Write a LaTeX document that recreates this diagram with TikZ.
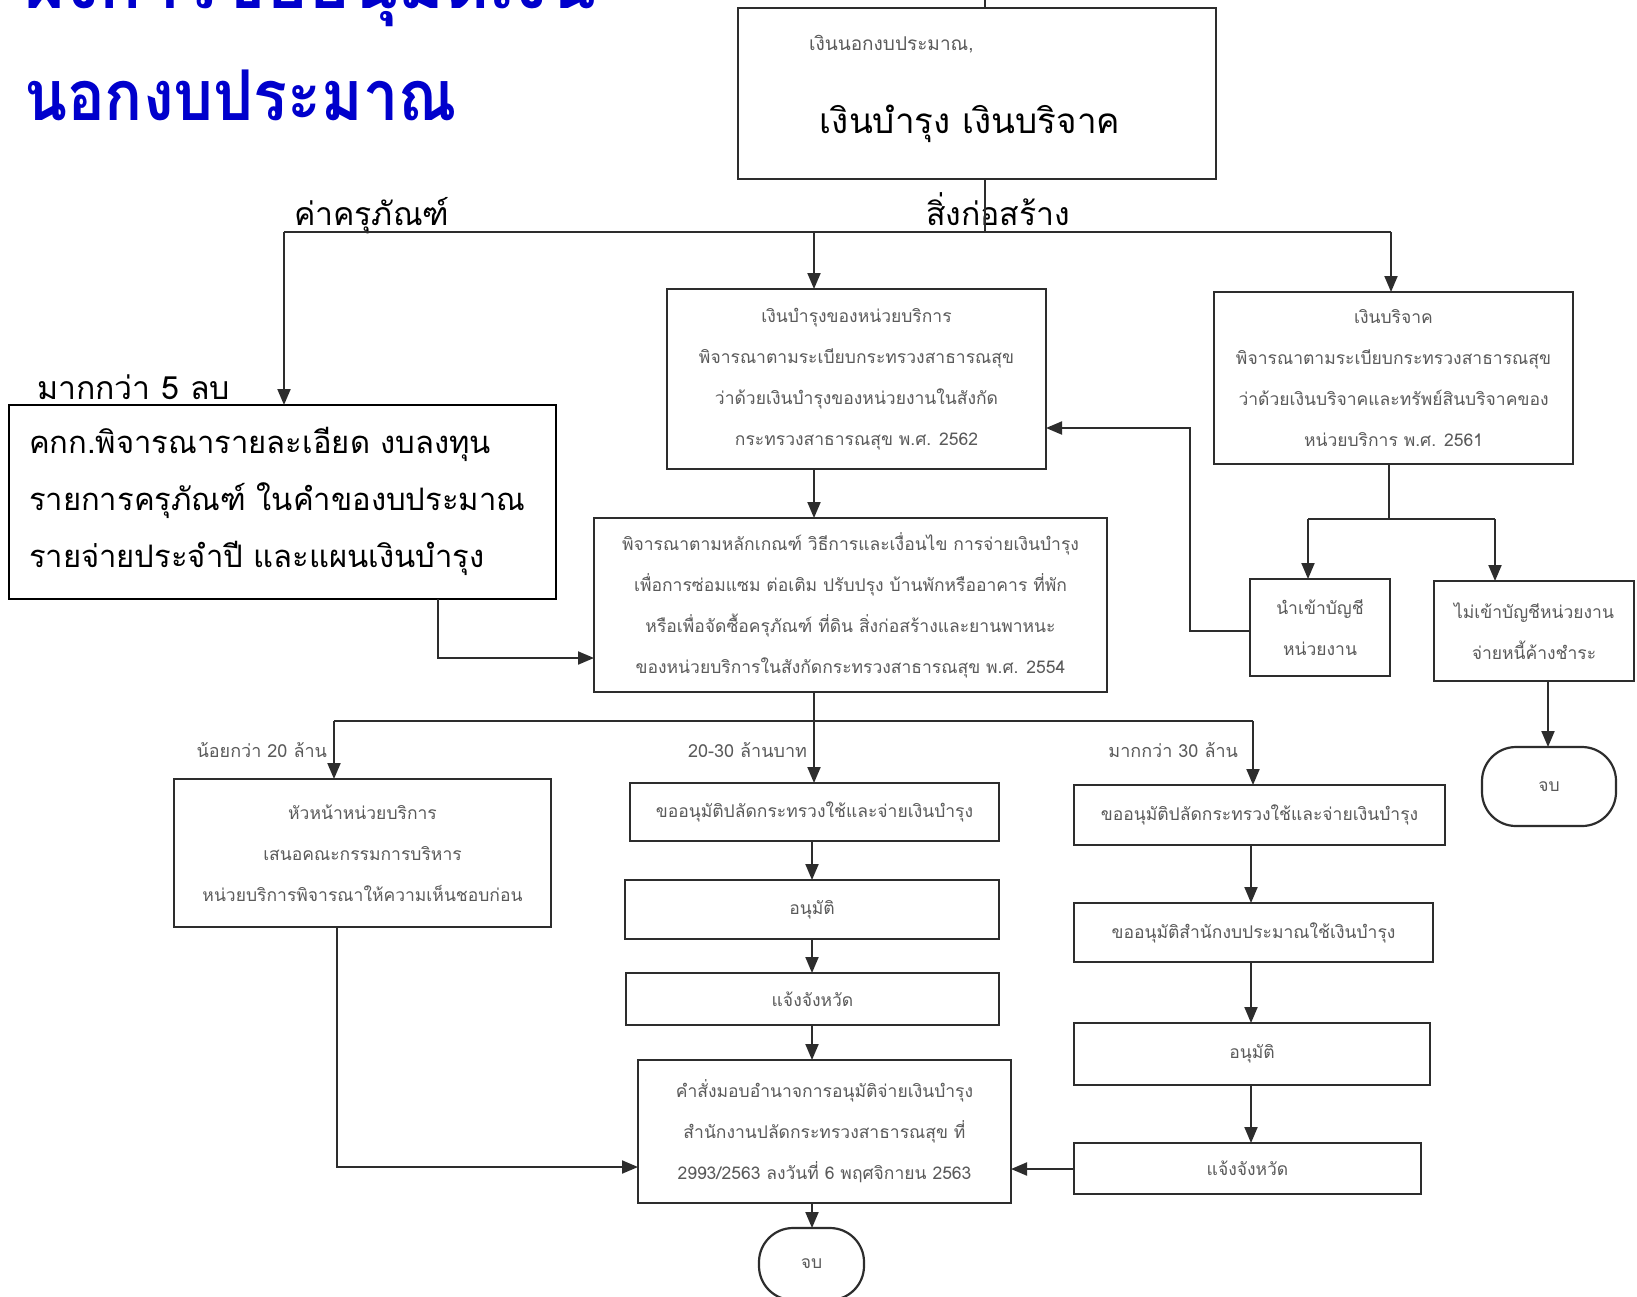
\documentclass[tikz,border=0pt]{standalone}
\usepackage{fontspec}
\setmainfont[Script=Thai]{Loma}
\usetikzlibrary{arrows.meta}
\definecolor{titleblue}{RGB}{0,0,204}
\definecolor{ink}{RGB}{45,45,45}
\definecolor{scan}{RGB}{90,90,90}
\tikzset{
  every node/.style={inner sep=0pt, outer sep=0pt},
  box/.style={draw=ink, line width=2.2pt, rectangle},
  bigbox/.style={draw=black, line width=1.8pt, rectangle},
  small/.style={text=scan, font=\fontsize{17.5}{41}\selectfont, align=center},
  bigtxt/.style={text=black, font=\fontsize{31}{57}\selectfont},
  lbl/.style={text=black, font=\fontsize{32}{36}\selectfont, anchor=base west},
  cond/.style={text=scan, font=\fontsize{18}{22}\selectfont, anchor=base east},
  ln/.style={draw=ink, line width=2pt},
  arr/.style={draw=ink, line width=2pt, -{Triangle[length=16pt,width=13pt]}},
  term/.style={box, rounded corners=34pt}
}
\begin{document}
\begin{tikzpicture}[x=1pt, y=-1pt]
\useasboundingbox (0,0) rectangle (1637,1296);
\clip (0,0) rectangle (1637,1296);
\fill[white] (0,0) rectangle (1637,1296);

% title (first line runs off the top edge)
\node[anchor=base west, text=titleblue, font=\bfseries\fontsize{70}{80}\selectfont] (title1) at (24,8) {ผังการขออนุมัติเงิน};
\node[anchor=base west, text=titleblue, font=\bfseries\fontsize{70}{80}\selectfont] (title2) at (24,120) {\scalebox{0.9}[1]{นอกงบประมาณ}};

% source of funds
\node[box, minimum width=478pt, minimum height=171pt] (T) at (977,93.5) {};
\node[text=scan, font=\fontsize{19}{22}\selectfont, anchor=base west] (Tsub) at (809,50) {เงินนอกงบประมาณ,};
\node[font=\fontsize{35}{40}\selectfont, anchor=base] (Tmain) at (970,133) {เงินบำรุง เงินบริจาค};

% branch labels
\node[lbl] (lblA) at (294,225) {ค่าครุภัณฑ์};
\node[lbl] (lblB) at (926,225) {สิ่งก่อสร้าง};
\node[lbl] (lblC) at (37,399) {มากกว่า 5 ลบ};

% regulations
\node[box, small, minimum width=379pt, minimum height=180pt] (MB1) at (856.5,379)
  {เงินบำรุงของหน่วยบริการ\\พิจารณาตามระเบียบกระทรวงสาธารณสุข\\ว่าด้วยเงินบำรุงของหน่วยงานในสังกัด\\กระทรวงสาธารณสุข พ.ศ. 2562};
\node[box, small, minimum width=359pt, minimum height=172pt] (RB) at (1393.5,378)
  {เงินบริจาค\\พิจารณาตามระเบียบกระทรวงสาธารณสุข\\ว่าด้วยเงินบริจาคและทรัพย์สินบริจาคของ\\หน่วยบริการ พ.ศ. 2561};
\node[bigbox, minimum width=547pt, minimum height=194pt] (LB) at (282.5,502) {};
\node[bigtxt, anchor=west, align=left] (LBt) at (29,501)
  {คกก.พิจารณารายละเอียด งบลงทุน\\รายการครุภัณฑ์ ในคำของบประมาณ\\รายจ่ายประจำปี และแผนเงินบำรุง};
\node[box, small, minimum width=513pt, minimum height=174pt] (MB2) at (850.5,605)
  {พิจารณาตามหลักเกณฑ์ วิธีการและเงื่อนไข การจ่ายเงินบำรุง\\เพื่อการซ่อมแซม ต่อเติม ปรับปรุง บ้านพักหรืออาคาร ที่พัก\\หรือเพื่อจัดซื้อครุภัณฑ์ ที่ดิน สิ่งก่อสร้างและยานพาหนะ\\ของหน่วยบริการในสังกัดกระทรวงสาธารณสุข พ.ศ. 2554};
\node[box, small, minimum width=140pt, minimum height=97pt] (SA) at (1320,627.5) {นำเข้าบัญชี\\หน่วยงาน};
\node[box, small, minimum width=200pt, minimum height=100pt] (SB) at (1534,631) {ไม่เข้าบัญชีหน่วยงาน\\จ่ายหนี้ค้างชำระ};
\node[term, small, minimum width=134pt, minimum height=79pt] (ER) at (1549,786.5) {จบ};

% approval routes
\node[box, small, minimum width=377pt, minimum height=148pt] (LL) at (362.5,853)
  {หัวหน้าหน่วยบริการ\\เสนอคณะกรรมการบริหาร\\หน่วยบริการพิจารณาให้ความเห็นชอบก่อน};
\node[box, small, minimum width=369pt, minimum height=58pt] (M1) at (814.5,812) {ขออนุมัติปลัดกระทรวงใช้และจ่ายเงินบำรุง};
\node[box, small, minimum width=374pt, minimum height=59pt] (M2) at (812,909.5) {อนุมัติ};
\node[box, small, minimum width=373pt, minimum height=52pt] (M3) at (812.5,999) {แจ้งจังหวัด};
\node[box, small, minimum width=373pt, minimum height=143pt] (M4) at (824.5,1131.5)
  {คำสั่งมอบอำนาจการอนุมัติจ่ายเงินบำรุง\\สำนักงานปลัดกระทรวงสาธารณสุข ที่\\2993/2563 ลงวันที่ 6 พฤศจิกายน 2563};
\node[term, small, minimum width=105pt, minimum height=72pt] (EB) at (811.5,1264) {จบ};
\node[box, small, minimum width=371pt, minimum height=60pt] (R1) at (1259.5,815) {ขออนุมัติปลัดกระทรวงใช้และจ่ายเงินบำรุง};
\node[box, small, minimum width=359pt, minimum height=59pt] (R2) at (1253.5,932.5) {ขออนุมัติสำนักงบประมาณใช้เงินบำรุง};
\node[box, small, minimum width=356pt, minimum height=62pt] (R3) at (1252,1054) {อนุมัติ};
\node[box, small, minimum width=347pt, minimum height=51pt] (R4) at (1247.5,1168.5) {แจ้งจังหวัด};

% amount labels
\node[cond] (c1) at (327,757) {น้อยกว่า 20 ล้าน};
\node[cond] (c2) at (807,757) {20-30 ล้านบาท};
\node[cond] (c3) at (1238,757) {มากกว่า 30 ล้าน};

% connector points
\coordinate (J) at (985,232);
\coordinate (cL) at (284,232);
\coordinate (cM) at (814,232);
\coordinate (cR) at (1391,232);
\coordinate (rs) at (1389,519);
\coordinate (ra) at (1308,519);
\coordinate (rb) at (1495,519);
\coordinate (bk) at (1190,631);
\coordinate (bky) at (0,428);
\coordinate (ex) at (1548,0);
\coordinate (lb) at (438,658);
\coordinate (sp) at (814,721);
\coordinate (s1) at (334,721);
\coordinate (s3) at (1253,721);
\coordinate (mx) at (812,0);
\coordinate (rx) at (1251,0);
\coordinate (ll) at (337,1167);
\coordinate (r4y) at (0,1169);

% top distribution
\draw[ln] (T.north -| J) -- ++(0,-14);
\draw[ln] (T.south -| J) -- (J);
\draw[ln] (cL) -- (cR);
\draw[arr] (cL) -- (LB.north -| cL);
\draw[arr] (cM) -- (MB1.north -| cM);
\draw[arr] (cR) -- (RB.north -| cR);
\draw[arr] (MB1.south -| cM) -- (MB2.north -| cM);

% donations
\draw[ln] (RB.south -| rs) -- (rs);
\draw[ln] (ra) -- (rb);
\draw[arr] (ra) -- (SA.north -| ra);
\draw[arr] (rb) -- (SB.north -| rb);
\draw[arr] (SA.west |- bk) -- (bk) |- (MB1.east |- bky);
\draw[arr] (SB.south -| ex) -- (ER.north -| ex);

% equipment committee
\draw[arr] (LB.south -| lb) |- (MB2.west |- lb);

% split by amount
\draw[ln] (MB2.south -| sp) -- (sp);
\draw[ln] (s1) -- (s3);
\draw[arr] (s1) -- (LL.north -| s1);
\draw[arr] (sp) -- (M1.north -| sp);
\draw[arr] (s3) -- (R1.north -| s3);

% middle column
\draw[arr] (M1.south -| mx) -- (M2.north -| mx);
\draw[arr] (M2.south -| mx) -- (M3.north -| mx);
\draw[arr] (M3.south -| mx) -- (M4.north -| mx);
\draw[arr] (M4.south -| mx) -- (EB.north -| mx);

% right column
\draw[arr] (R1.south -| rx) -- (R2.north -| rx);
\draw[arr] (R2.south -| rx) -- (R3.north -| rx);
\draw[arr] (R3.south -| rx) -- (R4.north -| rx);
\draw[arr] (R4.west |- r4y) -- (M4.east |- r4y);

% left column
\draw[arr] (LL.south -| ll) |- (M4.west |- ll);
\end{tikzpicture}
\end{document}
